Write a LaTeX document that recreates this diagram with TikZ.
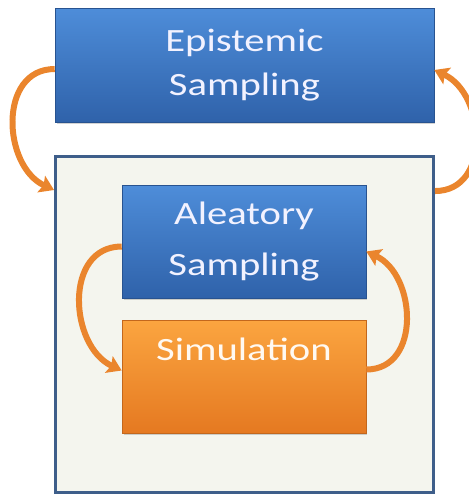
\documentclass[tikz,border=0pt]{standalone}
\usepackage{fontspec}
\setmainfont{Carlito}[FakeStretch=1.25]
\usetikzlibrary{calc,arrows.meta,shadows}

\definecolor{bluetop}{RGB}{78,141,217}
\definecolor{bluebot}{RGB}{47,98,170}
\definecolor{orangetop}{RGB}{251,165,64}
\definecolor{orangebot}{RGB}{229,121,33}
\definecolor{framecol}{RGB}{62,94,138}
\definecolor{panelcol}{RGB}{244,245,238}
\definecolor{arrowcol}{RGB}{234,133,45}

\tikzset{
	boxshadow/.style={drop shadow={shadow xshift=0.03cm, shadow yshift=-0.05cm, opacity=0.35}},
	bluebox/.style={rectangle, draw=bluebot!85!black, line width=0.4pt, top color=bluetop, bottom color=bluebot, text=white!95!blue, align=center, inner sep=0pt, boxshadow},
	orangebox/.style={rectangle, draw=orangebot!85!black, line width=0.4pt, top color=orangetop, bottom color=orangebot, text=white!95!orange, inner sep=0pt, boxshadow},
	flowarrow/.style={draw=arrowcol, line width=0.12cm, -{Stealth[length=0.28cm, width=0.36cm, inset=0.05cm]}}
}

\begin{document}
\begin{tikzpicture}[x=0.02cm, y=0.02cm]
			%%%%% START %%%%%
			
			\useasboundingbox (0, 0) rectangle (469, -495);
			
			\node[bluebox, minimum width=7.58cm, minimum height=2.28cm, font=\fontsize{18.5pt}{24.6pt}\selectfont] (epistemic) at (244.5, -65) {Epistemic\\Sampling};
			
			\node[draw=framecol, line width=0.06cm, fill=panelcol, minimum width=7.56cm, minimum height=6.72cm] (panel) at (244.5, -324.5) {};
			
			\node[bluebox, minimum width=4.88cm, minimum height=2.26cm, font=\fontsize{18.5pt}{28.5pt}\selectfont] (aleatory) at (244, -241.5) {Aleatory\\Sampling};
			\node[orangebox, minimum width=4.88cm, text height=0.8cm, text depth=1.46cm, font=\fontsize{18.5pt}{22pt}\selectfont] (simulation) at (244, -376.5) {Simulation};
			
			\draw[flowarrow] ($(epistemic.west)+(0, -4)$) to[out=180, in=155, looseness=1.2] ($(panel.north west)+(0, -35)$);
			\draw[flowarrow] ($(panel.north east)+(0, -36)$) to[out=0, in=-25, looseness=1.2] ($(epistemic.east)+(0, -5)$);
			
			\draw[flowarrow] ($(aleatory.west)+(0, -5)$) to[out=180, in=155, looseness=1.2] ($(simulation.west)+(0, 6)$);
			\draw[flowarrow] ($(simulation.east)+(0, 7)$) to[out=0, in=-25, looseness=1.2] ($(aleatory.east)+(0, -10)$);
			
			%%%%% END %%%%%
\end{tikzpicture}
\end{document}
